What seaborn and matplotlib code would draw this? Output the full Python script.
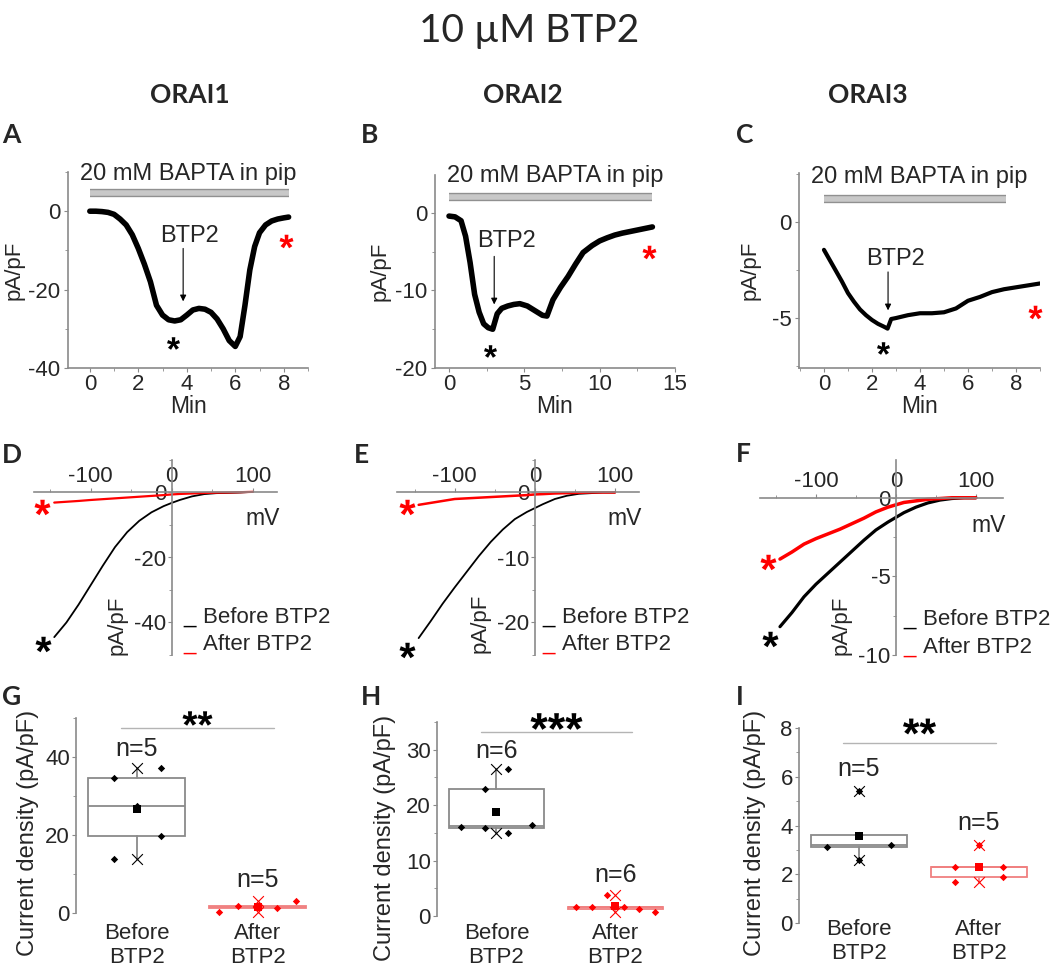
import numpy as np
import matplotlib
matplotlib.use("Agg")
import matplotlib.pyplot as plt
import matplotlib.patheffects as pe
import seaborn as sns
from matplotlib.ticker import MultipleLocator
from matplotlib.textpath import TextPath
from matplotlib.font_manager import FontProperties
from matplotlib.path import Path

# ---- time courses (min, pA/pF) ----
orai1_min = [0, 0.25, 0.5, 0.75, 1.0, 1.25, 1.5, 1.75, 2.0, 2.25, 2.5, 2.75, 3.0, 3.25, 3.5, 3.75, 4.0, 4.25,
             4.5, 4.75, 5.0, 5.25, 5.5, 5.75, 6.0, 6.2, 6.4, 6.6, 6.8, 7.0, 7.25, 7.5, 7.75, 8.0, 8.2]
orai1_cur = [0, 0, -0.1, -0.3, -0.8, -2.0, -3.5, -6.0, -9.5, -13.5, -18.0, -24.0, -26.5, -27.7, -28.0, -27.7,
             -26.5, -25.2, -24.8, -25.0, -25.8, -27.5, -30.0, -33.0, -34.5, -32.0, -24.0, -15.0, -9.0, -5.5,
             -3.5, -2.5, -2.0, -1.7, -1.5]
orai2_min = [0, 0.4, 0.8, 1.1, 1.4, 1.7, 2.0, 2.3, 2.6, 2.9, 3.2, 3.5, 3.9, 4.3, 4.7, 5.2, 5.7, 6.2, 6.5,
             6.9, 7.4, 7.9, 8.4, 8.9, 9.5, 10.0, 10.5, 11.0, 11.5, 12.0, 12.5, 13.0, 13.5]
orai2_cur = [-0.4, -0.5, -1.0, -3.0, -6.4, -10.5, -12.8, -14.3, -14.8, -15.0, -13.0, -12.3, -12.0, -11.8,
             -11.7, -12.0, -12.6, -13.2, -13.3, -11.2, -9.6, -8.2, -6.6, -5.1, -4.2, -3.6, -3.2, -2.85,
             -2.6, -2.4, -2.2, -2.0, -1.8]
orai3_min = [0, 0.25, 0.5, 0.75, 1.0, 1.25, 1.5, 1.75, 2.0, 2.25, 2.5, 2.65, 2.8, 3.0, 3.5, 4.0, 4.5, 5.0,
             5.5, 6.0, 6.5, 7.0, 7.5, 8.0, 8.5, 9.0]
orai3_cur = [-1.45, -2.0, -2.55, -3.1, -3.7, -4.15, -4.55, -4.85, -5.1, -5.3, -5.45, -5.55, -5.05, -5.0,
             -4.85, -4.75, -4.75, -4.7, -4.5, -4.1, -3.9, -3.65, -3.5, -3.4, -3.3, -3.2]
bapta_start = [0, 0, 0]
bapta_end = [8.2, 13.5, 7.6]
btp2_time = [3.85, 3.0, 2.67]

# ---- I-V curves (mV, pA/pF) ----
iv_mv = [-145, -130, -115, -100, -85, -70, -55, -40, -25, -10, 0, 10, 25, 40, 55, 70, 85, 100]
orai1_iv_before = [-44.5, -40, -34.5, -28.5, -22.5, -16.8, -12.2, -8.7, -6.1, -4.2, -3.2, -2.3, -1.2,
                   -0.5, -0.2, -0.1, 0, 0.2]
orai1_iv_after = [-3.1, -2.85, -2.6, -2.3, -2.05, -1.8, -1.55, -1.3, -1.05, -0.8, -0.6, -0.45, -0.3,
                  -0.15, -0.05, 0, 0.1, 0.2]
orai2_iv_before = [-22.4, -19.8, -17.1, -14.6, -12.2, -9.8, -7.6, -5.7, -4.1, -3.0, -2.4, -1.8, -1.0,
                   -0.5, -0.2, -0.1, 0, 0]
orai2_iv_after = [-1.9, -1.6, -1.3, -1.0, -0.9, -0.8, -0.7, -0.6, -0.5, -0.4, -0.3, -0.25, -0.15, -0.1,
                  -0.05, 0, 0, 0]
orai3_iv_before = [-8.2, -7.3, -6.3, -5.5, -4.8, -4.1, -3.4, -2.7, -2.05, -1.55, -1.25, -0.95, -0.6,
                   -0.33, -0.15, -0.05, 0, 0]
orai3_iv_after = [-3.9, -3.45, -2.95, -2.6, -2.3, -2.0, -1.65, -1.3, -0.9, -0.6, -0.45, -0.3, -0.2, -0.1,
                  -0.05, 0, 0, 0]

# ---- current density (pA/pF) ----
orai1_before = [34.5, 13.9, 27.5, 37.3, 19.7]
orai1_after = [0.3, 1.8, 1.5, 1.3, 3.1]
orai2_before = [16.0, 15.8, 23.0, 26.6, 14.9, 16.5]
orai2_after = [1.6, 1.6, 3.8, 1.7, 1.2, 0.7]
orai3_before = [3.1, 5.4, 3.6, 2.6, 3.2]
orai3_after = [2.3, 1.7, 3.2, 2.3, 1.9]
significance = ["**", "***", "**"]
channels = ["ORAI1", "ORAI2", "ORAI3"]
groups = ["Before\nBTP2", "After\nBTP2"]

sns.set_style("ticks")
plt.rcParams["font.family"] = ["Liberation Sans", "DejaVu Sans"]
plt.rcParams["axes.unicode_minus"] = False

GREY = "#8a8a8a"
RED = "#ff0000"
PINK = "#f08080"
W, H = 1050, 972
fig = plt.figure(figsize=(W / 100, H / 100), dpi=100)


def add_ax(left, top, width, height):
    return fig.add_axes([left / W, 1 - (top + height) / H, width / W, height / H])


def ftext(x, y, s, **kw):
    fig.text(x / W, 1 - y / H, s, **kw)


def style_spines(ax, keep):
    for side, sp in ax.spines.items():
        sp.set_visible(side in keep)
        sp.set_color(GREY)
        sp.set_linewidth(1.2)


STAR_FONT = FontProperties(family="Liberation Sans", weight="bold")


def star_marker(s):
    # asterisk glyphs as a marker centred on its ink
    tp = TextPath((0, 0), s, prop=STAR_FONT)
    v = tp.vertices.copy()
    keep = tp.codes != Path.CLOSEPOLY
    c = (v[keep].min(axis=0) + v[keep].max(axis=0)) / 2
    v[~keep] = c
    return Path(v - c, tp.codes)


def put_star(ax, x, y, s, size_px, color):
    ax.plot([x], [y], marker=star_marker(s), ms=size_px * 0.72, color=color, mew=0,
            ls="none", clip_on=False, zorder=6)


def box_stats(vals):
    v = np.sort(vals)
    n = len(v)
    half = (n + 1) // 2
    q1, q3 = np.median(v[:half]), np.median(v[n - half:])
    iqr = q3 - q1
    return dict(med=np.median(v), q1=q1, q3=q3,
                whislo=v[v >= q1 - 1.5 * iqr].min(), whishi=v[v <= q3 + 1.5 * iqr].max(), fliers=[])


# ---- titles ----
ftext(529, 42, "10 \u00b5M BTP2", fontsize=28, family="Lato", ha="center", va="baseline")
for x, name in zip([190, 523, 868], channels):
    ftext(x, 103, name, fontsize=19, family="Lato", weight="bold", ha="center", va="baseline")
for (x, y), letter in zip([(2, 143), (361, 143), (736, 143), (2, 463), (354, 463), (736, 462),
                           (2, 705), (361, 705), (736, 705)], "ABCDEFGHI"):
    ftext(x, y, letter, fontsize=19, family="Lato", weight="bold", ha="left", va="baseline")

# ---- time courses ----
tc_t = [orai1_min, orai2_min, orai3_min]
tc_i = [orai1_cur, orai2_cur, orai3_cur]
tc_rects = [(68, 172, 240, 196), (435, 175, 240, 193), (799, 173, 241, 195)]
tc_xlim = [(-0.9, 9), (-0.93, 15), (-1.04, 9)]
tc_ylim = [(-40, 10), (-20, 4.9), (-7.6, 2.55)]
tc_xstep = [(2, 1), (5, 2.5), (2, 1)]
tc_ystep = [(20, 10), (10, 5), (5, 2.5)]
tc_lw = [4, 4, 3]
bapta_y = [4.6, 2.05, 1.2]
bapta_text_y = [0.959, 0.964, 0.949]
btp2_text = [(4.12, -7.9), (3.8, -4.36), (2.96, -2.24)]
btp2_arrow = [(-9.5, -23), (-5.6, -11.8), (-2.6, -4.6)]
black_star = [(3.45, -33.5), (2.73, -17.8), (2.45, -6.56)]
red_star = [(8.1, -7.7), (13.3, -5.0), (8.8, -4.7)]
ylab_pad = [2.5, 3, 8]

for k in range(3):
    ax = add_ax(*tc_rects[k])
    sns.lineplot(x=tc_t[k], y=tc_i[k], ax=ax, color="black", linewidth=tc_lw[k],
                 estimator=None, sort=False)
    ax.set_xlim(*tc_xlim[k])
    ax.set_ylim(*tc_ylim[k])
    ax.xaxis.set_major_locator(MultipleLocator(tc_xstep[k][0]))
    ax.xaxis.set_minor_locator(MultipleLocator(tc_xstep[k][1]))
    ax.yaxis.set_major_locator(MultipleLocator(tc_ystep[k][0]))
    ax.yaxis.set_minor_locator(MultipleLocator(tc_ystep[k][1]))
    style_spines(ax, ["left", "bottom"])
    ax.tick_params(which="both", direction="out", color=GREY, labelsize=16)
    ax.tick_params(axis="y", which="major", length=3, pad=2.5)
    ax.tick_params(axis="x", which="major", length=3, pad=1)
    ax.tick_params(which="minor", length=2)
    ax.set_xlabel("Min", fontsize=16.5, labelpad=0)
    ax.set_ylabel("pA/pF", fontsize=16, labelpad=ylab_pad[k])

    ax.plot([bapta_start[k], bapta_end[k]], [bapta_y[k]] * 2, color="#c8c8c8", lw=4,
            solid_capstyle="butt",
            path_effects=[pe.Stroke(linewidth=6, foreground="#909090"), pe.Normal()])
    ax.text(0.5, bapta_text_y[k], "20 mM BAPTA in pip", transform=ax.transAxes,
            fontsize=17, ha="center", va="baseline", clip_on=False)
    ax.text(*btp2_text[k], "BTP2", fontsize=17, ha="center", va="baseline")
    ax.annotate("", xy=(btp2_time[k], btp2_arrow[k][1]), xytext=(btp2_time[k], btp2_arrow[k][0]),
                arrowprops=dict(arrowstyle="-|>", color="black", lw=0.8, mutation_scale=9,
                                shrinkA=0, shrinkB=0))
    put_star(ax, *black_star[k], "*", 13, "black")
    put_star(ax, *red_star[k], "*", 14, RED)

# ---- I-V curves ----
iv_before = [orai1_iv_before, orai2_iv_before, orai3_iv_before]
iv_after = [orai1_iv_after, orai2_iv_after, orai3_iv_after]
iv_rects = [(34, 460, 243, 195), (397, 460, 242, 195), (760, 460, 243, 195)]
iv_xlim = [(-170, 130), (-172, 130), (-170, 134)]
iv_ylim = [(-50, 10), (-25, 5), (-10, 2.4)]
iv_ystep = [(20, 10), (10, 5), (5, 2.5)]
iv_lw = [(1.3, 1.6), (1.3, 1.8), (2.3, 2.5)]
iv_black_star = [(-159, -46.5), (-160, -24.3), (-157, -9.0)]
iv_red_star = [(-160, -4.6), (-160, -2.3), (-160, -4.1)]
iv_ylab = [(0.342, 0.15), (0.343, 0.16), (0.333, 0.15)]
iv_mv_lab = [0.667, 0.667, 0.63]
iv_leg_x = [(0.613, 0.695), (0.599, 0.682), (0.588, 0.671)]
iv_leg_y = [(0.164, 0.026), (0.164, 0.026), (0.155, 0.01)]

for k in range(3):
    ax = add_ax(*iv_rects[k])
    sns.lineplot(x=iv_mv, y=iv_before[k], ax=ax, color="black", linewidth=iv_lw[k][0],
                 estimator=None, sort=False)
    sns.lineplot(x=iv_mv, y=iv_after[k], ax=ax, color=RED, linewidth=iv_lw[k][1],
                 estimator=None, sort=False)
    ax.set_xlim(*iv_xlim[k])
    ax.set_ylim(*iv_ylim[k])
    ax.spines["left"].set_position(("data", 0))
    ax.spines["top"].set_position(("data", 0))
    style_spines(ax, ["left", "top"])
    ax.xaxis.set_ticks_position("top")
    ax.set_xticks([-100, 0, 100])
    ax.set_xticks([-150, -50, 50], minor=True)
    ax.yaxis.set_major_locator(MultipleLocator(iv_ystep[k][0]))
    ax.yaxis.set_minor_locator(MultipleLocator(iv_ystep[k][1]))
    ax.tick_params(which="both", direction="out", color=GREY, labelsize=16)
    ax.tick_params(which="major", length=3, pad=1)
    ax.tick_params(which="minor", length=2)
    ax.set_xlabel("")
    ax.set_ylabel("")
    ax.text(*iv_ylab[k], "pA/pF", transform=ax.transAxes, rotation=90, fontsize=16,
            ha="center", va="center")
    ax.text(0.94, iv_mv_lab[k], "mV", transform=ax.transAxes, fontsize=16.5,
            ha="center", va="baseline")
    for j, (lab, c) in enumerate([("Before BTP2", "black"), ("After BTP2", RED)]):
        ax.text(iv_leg_x[k][0], iv_leg_y[k][j], "_", color=c, transform=ax.transAxes,
                fontsize=16, ha="left", va="baseline")
        ax.text(iv_leg_x[k][1], iv_leg_y[k][j], lab, transform=ax.transAxes,
                fontsize=16, ha="left", va="baseline")
    put_star(ax, *iv_black_star[k], "*", 16, "black")
    put_star(ax, *iv_red_star[k], "*", 16, RED)

# ---- current density box charts ----
box_before = [orai1_before, orai2_before, orai3_before]
box_after = [orai1_after, orai2_after, orai3_after]
box_before_dx = [[-0.19, -0.19, 0, 0.2, 0.2], [-0.3, -0.1, -0.1, 0.1, 0.1, 0.3],
                 [-0.27, 0, 0, 0, 0.27]]
box_after_dx = [[-0.32, -0.16, 0, 0.16, 0.32], [-0.33, -0.2, -0.07, 0.07, 0.2, 0.33],
                [-0.2, -0.2, 0, 0.2, 0.2]]
box_rects = [(76, 718, 236, 195), (437, 722, 232, 194), (799, 728, 234, 195)]
box_ylim = [(0, 50), (0, 35), (0, 8)]
box_ystep = [(20, 10), (10, 5), (2, 1)]
box_xpad = [7, 5, -3]
n_label_y = [(42, 8.5), (29.8, 7.4), (6.3, 4.1)]
sig_y = [(47.5, 50), (33.2, 35.2), (7.4, 8.1)]
sig_px = [30, 52, 33]
box_ylab = [(-0.203, 0.41), (-0.224, 0.40), (-0.188, 0.46)]

for k in range(3):
    ax = add_ax(*box_rects[k])
    for pos, vals, dx, c, ec in [(0, box_before[k], box_before_dx[k], "black", GREY),
                                 (1, box_after[k], box_after_dx[k], RED, PINK)]:
        ax.bxp([box_stats(vals)], positions=[pos], widths=0.8, showcaps=False, showfliers=False,
               patch_artist=True, manage_ticks=False,
               boxprops=dict(facecolor="white", edgecolor=ec, linewidth=1.3),
               medianprops=dict(color=ec, linewidth=1.3),
               whiskerprops=dict(color=ec, linewidth=1.3))
        sns.scatterplot(x=np.add(pos, dx), y=vals, ax=ax, marker="D", s=14, color=c,
                        linewidth=0, zorder=4, clip_on=False)
        ax.scatter([pos, pos], [min(vals), max(vals)], marker="x", s=60, color=c,
                   linewidths=0.8, zorder=5, clip_on=False)
        sns.scatterplot(x=[pos], y=[np.mean(vals)], ax=ax, marker="s", s=26, color=c,
                        linewidth=0, zorder=6)
        ax.text(pos, n_label_y[k][pos], "n=%d" % len(vals), fontsize=18, ha="center", va="center")
    ax.set_xlim(-0.5, 1.45)
    ax.set_ylim(*box_ylim[k])
    ax.set_xticks([0, 1])
    ax.set_xticklabels(groups)
    ax.yaxis.set_major_locator(MultipleLocator(box_ystep[k][0]))
    ax.yaxis.set_minor_locator(MultipleLocator(box_ystep[k][1]))
    style_spines(ax, ["left"])
    ax.tick_params(which="both", direction="out", color=GREY, labelsize=16)
    ax.tick_params(axis="y", which="major", length=3, pad=1.5)
    ax.tick_params(axis="y", which="minor", length=2)
    ax.tick_params(axis="x", length=0, pad=box_xpad[k])
    ax.set_ylabel("")
    ax.text(*box_ylab[k], "Current density (pA/pF)", transform=ax.transAxes, rotation=90,
            fontsize=17, ha="center", va="center")
    ax.plot([-0.13, 1.14], [sig_y[k][0]] * 2, color="#b4b4b4", lw=1)
    put_star(ax, 0.5, sig_y[k][1], significance[k], sig_px[k], "black")

fig.savefig("out.png", dpi=100)
